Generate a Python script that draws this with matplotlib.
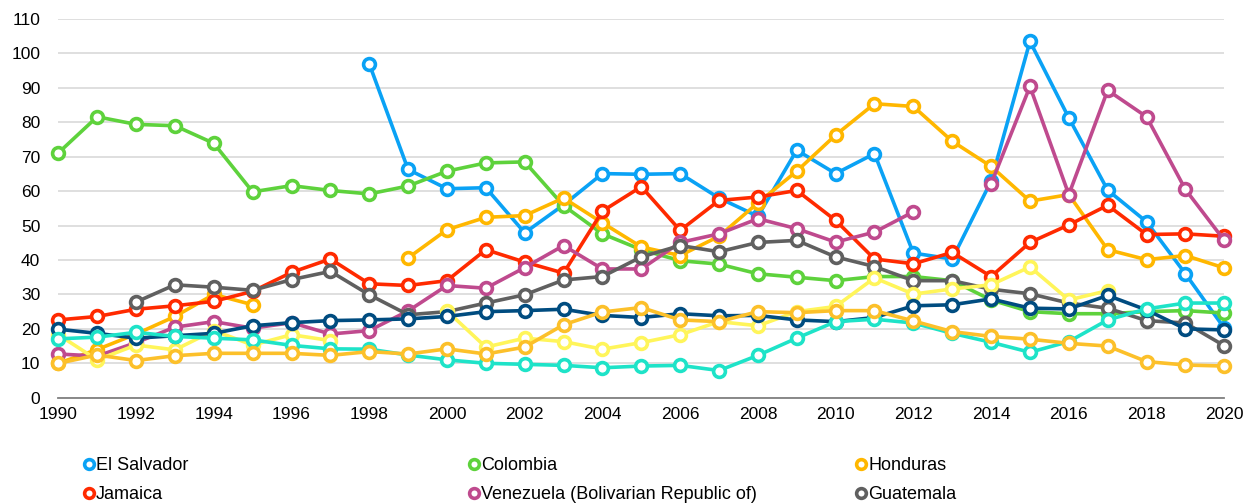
import numpy as np
import matplotlib.pyplot as plt
from matplotlib.lines import Line2D

plt.rcParams['font.family'] = ['Liberation Sans', 'DejaVu Sans']

nan = np.nan
years = np.arange(1990, 2021)

el_salvador = [nan, nan, nan, nan, nan, nan, nan, nan, 97.0, 66.3, 60.7, 61.0, 47.9, 56.0, 65.1, 64.9,
               65.1, 58.0, 52.7, 71.9, 65.1, 70.9, 42.0, 40.3, 62.9, 103.5, 81.3, 60.3, 51.1, 36.0, 20.2]
colombia = [71.1, 81.6, 79.4, 79.0, 73.9, 59.8, 61.6, 60.2, 59.2, 61.5, 65.8, 68.2, 68.5, 55.8, 47.6, 43.0,
            39.8, 38.8, 36.0, 35.0, 34.0, 35.2, 35.2, 34.0, 28.4, 25.0, 24.4, 24.4, 25.0, 25.3, 24.6]
honduras = [10.0, 14.0, 18.5, 23.6, 30.0, 27.0, nan, nan, nan, 40.6, 48.8, 52.4, 52.9, 58.0, 50.8, 43.8,
            41.3, 46.9, 56.6, 65.8, 76.3, 85.4, 84.6, 74.5, 67.2, 57.1, 59.0, 43.0, 40.1, 41.3, 37.7]
jamaica = [22.6, 23.6, 25.7, 26.7, 28.0, 30.9, 36.4, 40.3, 33.1, 32.6, 34.0, 43.0, 39.4, 36.2, 54.2, 61.3,
           48.6, 57.3, 58.3, 60.2, 51.5, 40.3, 38.9, 42.2, 35.2, 45.1, 50.2, 55.9, 47.4, 47.6, 46.9]
venezuela = [12.7, 12.1, 16.0, 20.5, 22.1, 20.2, 21.8, 18.5, 19.5, 25.2, 32.6, 31.8, 37.8, 44.2, 37.4, 37.4,
             45.1, 47.6, 52.0, 49.1, 45.2, 48.1, 54.0, nan, 62.1, 90.4, 59.0, 89.3, 81.6, 60.5, 45.7]
guatemala = [nan, nan, 27.8, 32.8, 32.1, 31.2, 34.3, 36.7, 29.9, 24.1, 25.0, 27.5, 29.9, 34.2, 35.2, 40.9,
             44.2, 42.4, 45.1, 45.7, 40.9, 38.1, 34.0, 34.0, 31.5, 30.2, 27.5, 26.0, 22.4, 21.7, 15.1]
series_yellow = [18.3, 11.0, 15.3, 13.9, 19.5, 15.3, 18.3, 16.6, nan, nan, 25.2, 14.7, 17.3, 16.3, 14.1, 16.0,
                 18.3, 22.1, 20.9, 25.0, 26.5, 34.8, 30.1, 31.6, 32.8, 38.0, 28.4, 31.1, nan, nan, nan]
series_navy = [19.9, 18.7, 17.3, 18.0, 18.7, 20.9, 21.8, 22.4, 22.6, 22.9, 23.6, 25.0, 25.3, 25.7, 23.9, 23.3,
               24.4, 23.8, 23.9, 22.6, 22.1, 23.3, 26.7, 27.0, 28.7, 26.0, 25.8, 29.7, 25.5, 20.0, 19.7]
series_teal = [17.1, 17.6, 19.0, 17.8, 17.3, 16.8, 15.2, 14.2, 14.1, 12.4, 11.0, 10.0, 9.7, 9.4, 8.7, 9.2,
               9.4, 7.9, 12.3, 17.3, 22.1, 22.8, 21.7, 18.7, 16.1, 13.2, 16.3, 22.6, 25.8, 27.5, 27.5]
series_gold = [10.0, 12.4, 10.8, 12.2, 12.9, 12.9, 12.9, 12.3, 13.4, 12.7, 14.2, 12.7, 14.7, 21.2, 24.9, 26.2,
               22.6, 22.1, 25.0, 24.7, 25.3, 25.3, 22.3, 19.2, 17.8, 17.0, 15.8, 15.0, 10.5, 9.5, 9.2]

series = [
    ('El Salvador', el_salvador, '#0AA2F5'),
    ('Colombia', colombia, '#5ED23C'),
    ('Honduras', honduras, '#FFB700'),
    ('Jamaica', jamaica, '#FF2A00'),
    ('Venezuela (Bolivarian Republic of)', venezuela, '#BF4A8E'),
    ('Guatemala', guatemala, '#606060'),
    ('yellow', series_yellow, '#FFF55A'),
    ('navy', series_navy, '#004C80'),
    ('teal', series_teal, '#1EE3C8'),
    ('gold', series_gold, '#FCC02A'),
]

fig = plt.figure(figsize=(12.54, 5.03), dpi=100)
ax = fig.add_axes([0.0465, 0.2093, 0.9298, 0.7529])

handles = {}
for name, vals, col in series:
    ax.plot(years, vals, color=col, lw=2.6, marker='o', ms=8.5, mfc='white',
            mec=col, mew=2.6, solid_capstyle='round', clip_on=False)
    handles[name] = Line2D([], [], ls='none', marker='o', ms=7, mfc='white', mec=col, mew=2.6)

ax.set_xlim(1990, 2020)
ax.set_ylim(0, 110)
ax.set_xticks(np.arange(1990, 2021, 2))
ax.set_yticks(np.arange(0, 111, 10))
ax.grid(axis='y', color='#D9D9D9', lw=1.2)
ax.set_axisbelow(True)
for s in ['top', 'right', 'left']:
    ax.spines[s].set_visible(False)
ax.spines['bottom'].set_color('#808080')
ax.spines['bottom'].set_linewidth(1.3)
ax.tick_params(axis='both', length=0, labelsize=12.5, colors='black')
ax.tick_params(axis='y', pad=13)
ax.tick_params(axis='x', pad=7)

# legend: three columns of two, placed by hand
cols = [(0.0666, ['El Salvador', 'Jamaica']),
        (0.3736, ['Colombia', 'Venezuela (Bolivarian Republic of)']),
        (0.6822, ['Honduras', 'Guatemala'])]
for x0, names in cols:
    fig.legend([handles[n] for n in names], names, loc='upper left', bbox_to_anchor=(x0, 0.091),
               frameon=False, fontsize=13, handlelength=0.6, handletextpad=0.1,
               labelspacing=0.66, borderaxespad=0, borderpad=0)

fig.savefig('out.png', dpi=100)
